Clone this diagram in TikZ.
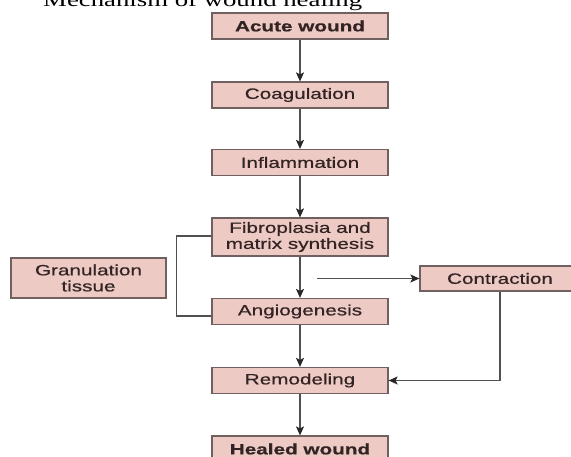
\documentclass[tikz,border=0pt]{standalone}
\usepackage{fontspec}
\usepackage{tikz}
\usetikzlibrary{positioning,arrows.meta}
\newfontfamily\boxfont[FakeStretch=1.38,FakeBold=0.6]{Liberation Sans}
\newfontfamily\titlefont[FakeStretch=1.38]{Liberation Serif}
\definecolor{boxfill}{RGB}{238,202,196}
\definecolor{boxline}{RGB}{112,96,96}
\definecolor{boxtext}{RGB}{50,36,36}
\definecolor{linkgray}{RGB}{80,80,80}
\definecolor{tipdark}{RGB}{40,40,40}

\begin{document}
\begin{tikzpicture}[x=1pt,y=-1pt,
  stage/.style={draw=boxline,line width=1.2pt,fill=boxfill,text=boxtext,inner sep=0pt,
    minimum width=176pt,minimum height=26pt,align=center,font=\boxfont\fontsize{15}{16}\selectfont},
  link/.style={draw=linkgray,line width=1.3pt},
  arr/.style={link,-{Stealth[length=9pt,width=8pt,inset=2pt,color=tipdark]}}]
  \useasboundingbox (0,0) rectangle (571,456);
  \clip (0,0) rectangle (571,456);
  \node[anchor=base west,inner sep=0pt,font=\titlefont\fontsize{19.4}{20}\selectfont] (title) at (43,6) {Mechanism of wound healing};
  \node[stage,font=\boxfont\bfseries\fontsize{15}{16}\selectfont] (acute) at (300,26) {Acute wound};
  \node[stage] (coag) at (300,95) {Coagulation};
  \node[stage] (infl) at (300,162.5) {Inflammation};
  \node[stage,minimum height=38pt] (fibro) at (300,237) {Fibroplasia and\\matrix synthesis};
  \node[stage] (angio) at (300,311.5) {Angiogenesis};
  \node[stage] (remod) at (300,380.5) {Remodeling};
  \node[stage,font=\boxfont\bfseries\fontsize{15}{16}\selectfont] (healed) at (300,449) {Healed wound};
  \node[stage,minimum width=155pt,minimum height=40pt] (gran) at (88.5,278) {Granulation\\tissue};
  \node[stage,minimum width=160pt,minimum height=25pt] (contr) at (500,278.5) {Contraction};
  \coordinate (split) at (317,278.5);
  \draw[arr] (acute) -- (coag);
  \draw[arr] (coag) -- (infl);
  \draw[arr] (infl) -- (fibro);
  \draw[arr] (fibro) -- (angio);
  \draw[arr] (angio) -- (remod);
  \draw[arr] (remod) -- (healed);
  \draw[arr] (split) -- (contr.west);
  \draw[arr] (contr.south) |- (remod.east);
  \draw[link] ([yshift=1pt]fibro.west) -- ++(-35,0) |- ([yshift=-4.5pt]angio.west);
\end{tikzpicture}
\end{document}
